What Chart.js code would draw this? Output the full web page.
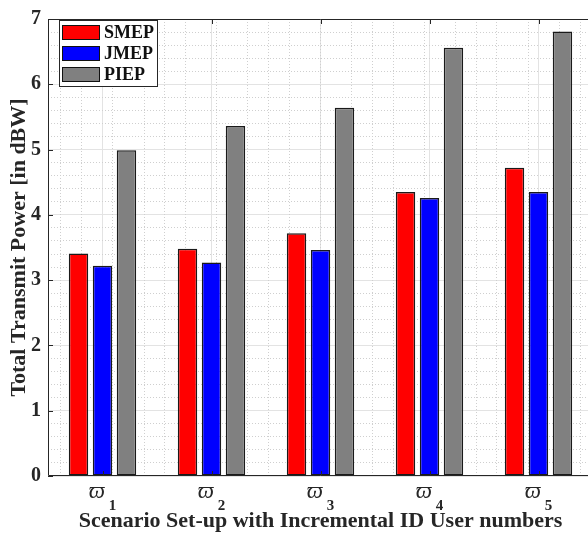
<!DOCTYPE html>
<html>
<head>
<meta charset="utf-8">
<script src="https://cdn.jsdelivr.net/npm/chart.js@4"></script>
<style>
  html, body { margin: 0; padding: 0; background: #fff; overflow: hidden; }
  #wrap { width: 600px; height: 544px; }
</style>
</head>
<body>
<div id="wrap"><canvas id="chart"></canvas></div>
<script>
// data
var scenarios = ['1', '2', '3', '4', '5'];
var seriesNames = ['SMEP', 'JMEP', 'PIEP'];
var smep = [3.41, 3.48, 3.72, 4.35, 4.72];
var jmep = [3.22, 3.27, 3.46, 4.26, 4.35];
var piep = [4.99, 5.36, 5.64, 6.56, 6.81];
var yTicks = [0, 1, 2, 3, 4, 5, 6, 7];

var serif = '"Liberation Serif", "Times New Roman", serif';
var ink = '#262626';
var majorGrid = '#e3e3e3';
var minorGrid = '#cfcfcf';

function minorVals(lo, hi) {
    var out = [];
    for (var k = Math.round(lo * 5); k <= Math.round(hi * 5); k++) {
        if (k % 5 !== 0) out.push(k / 5);
    }
    return out;
}

// frame, inward ticks, x labels and the boxed legend
const decor = {
    id: 'decor',
    afterDraw(chart) {
        const c = chart.ctx, a = chart.chartArea;
        const x = chart.scales.x, y = chart.scales.y;
        c.save();
        c.strokeStyle = ink;
        c.lineWidth = 1;
        c.beginPath();
        c.moveTo(a.left + 0.5, a.top + 0.5);
        c.lineTo(a.right - 0.5, a.top + 0.5);
        c.lineTo(a.right - 0.5, a.bottom - 0.5);
        c.lineTo(a.left + 0.5, a.bottom - 0.5);
        c.closePath();
        c.stroke();
        // ticks
        c.beginPath();
        yTicks.forEach(function (v) {
            var py = Math.round(y.getPixelForValue(v)) + 0.5;
            c.moveTo(a.left, py); c.lineTo(a.left + 5, py);
            c.moveTo(a.right, py); c.lineTo(a.right - 5, py);
        });
        scenarios.forEach(function (s, i) {
            var px = Math.round(x.getPixelForValue(i)) + 0.5;
            c.moveTo(px, a.bottom); c.lineTo(px, a.bottom - 5);
            c.moveTo(px, a.top); c.lineTo(px, a.top + 5);
        });
        c.stroke();

        // x tick labels: varpi with subscript
        c.fillStyle = ink;
        c.textBaseline = 'alphabetic';
        scenarios.forEach(function (s, i) {
            var cx = x.getPixelForValue(i);
            c.font = 'italic 23px ' + serif;
            var wv = c.measureText('\u03d6').width;
            c.font = 'bold 15px ' + serif;
            var wd = c.measureText(s).width;
            var x0 = cx - (wv + wd + 4) / 2;
            c.font = 'italic 23px ' + serif;
            c.fillText('\u03d6', x0, 498);
            c.font = 'bold 15px ' + serif;
            c.fillText(s, x0 + wv + 4, 510);
        });

        // legend
        var lx = 59, ly = 20, lw = 98, lh = 66;
        c.fillStyle = '#fff';
        c.fillRect(lx, ly, lw, lh);
        c.strokeStyle = ink;
        c.strokeRect(lx + 0.5, ly + 0.5, lw, lh);
        c.font = 'bold 18px ' + serif;
        c.textBaseline = 'middle';
        chart.data.datasets.forEach(function (ds, i) {
            var sy = ly + 5 + i * 21;
            c.fillStyle = ds.backgroundColor;
            c.fillRect(lx + 3, sy, 38, 15);
            c.strokeStyle = '#111';
            c.strokeRect(lx + 3.5, sy + 0.5, 37, 14);
            c.fillStyle = '#111';
            c.fillText(ds.label, lx + 45, sy + 8.5);
        });
        c.restore();
    }
};

const ctx = document.getElementById('chart').getContext('2d');
const powerChart = new Chart(ctx, {
    type: 'bar',
    data: {
        labels: scenarios,
        datasets: [
            { label: seriesNames[0], data: smep, backgroundColor: '#ff0000' },
            { label: seriesNames[1], data: jmep, backgroundColor: '#0000ff' },
            { label: seriesNames[2], data: piep, backgroundColor: '#808080' }
        ].map(function (d) {
            d.xAxisID = 'x';
            d.yAxisID = 'y';
            d.borderColor = '#1a1a1a';
            d.borderWidth = 1.5;
            d.borderSkipped = false;
            d.categoryPercentage = 0.66;
            d.barPercentage = 0.81;
            return d;
        })
    },
    options: {
        responsive: true,
        maintainAspectRatio: false,
        animation: false,
        devicePixelRatio: 1,
        layout: { padding: { top: 10, right: 7, left: 0, bottom: 0 } },
        plugins: {
            legend: { display: false },
            tooltip: { enabled: false }
        },
        scales: {
            x: {
                type: 'category',
                offset: true,
                grid: { color: majorGrid, offset: false, drawTicks: false },
                border: { display: false },
                ticks: { display: false },
                afterFit: function (s) { s.height = 68; },
                title: {
                    display: true,
                    text: 'Scenario Set-up with Incremental ID User numbers',
                    color: ink,
                    font: { family: serif, size: 22, weight: 'bold' },
                    padding: { top: 0, bottom: 9 }
                }
            },
            y: {
                min: 0, max: 7,
                afterBuildTicks: function (s) { s.ticks = yTicks.map(function (v) { return { value: v }; }); },
                afterFit: function (s) { s.width = 48; },
                grid: { color: majorGrid, drawTicks: false },
                border: { display: false },
                ticks: {
                    color: ink, padding: 7,
                    font: { family: serif, size: 20, weight: 'bold' }
                },
                title: {
                    display: true,
                    text: 'Total Transmit Power [in dBW]',
                    color: ink,
                    font: { family: serif, size: 22, weight: 'bold' },
                    padding: { top: 6, bottom: 0 }
                }
            },
            gridY: {
                axis: 'y', type: 'linear', position: 'left', min: 0, max: 7,
                afterBuildTicks: function (s) { s.ticks = minorVals(0, 7).map(function (v) { return { value: v }; }); },
                afterFit: function (s) { s.width = 0; },
                ticks: { display: false },
                border: { display: false, dash: [1, 2] },
                grid: { color: minorGrid, lineWidth: 1, drawTicks: false }
            },
            gridX: {
                axis: 'x', type: 'linear', position: 'bottom', min: -0.5, max: 4.5,
                afterBuildTicks: function (s) { s.ticks = minorVals(-0.5, 4.5).map(function (v) { return { value: v }; }); },
                afterFit: function (s) { s.height = 0; },
                ticks: { display: false },
                border: { display: false, dash: [1, 2] },
                grid: { color: minorGrid, lineWidth: 1, drawTicks: false }
            }
        }
    },
    plugins: [decor]
});
</script>
</body>
</html>
